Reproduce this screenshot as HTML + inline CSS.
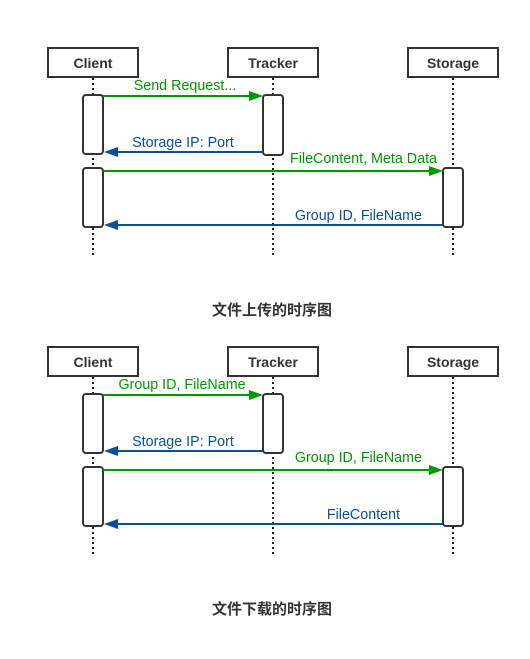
<!DOCTYPE html>
<html><head><meta charset="utf-8"><style>
html,body{margin:0;padding:0;background:#fff;width:530px;height:659px;overflow:hidden}
svg{display:block}
.h{font-family:"Liberation Sans","Noto Sans CJK SC",sans-serif;font-weight:bold;font-size:14px;fill:#333}
.t{font-family:"Liberation Sans","Noto Sans CJK SC",sans-serif;font-weight:bold;font-size:15px;fill:#333}
.l{font-family:"Liberation Sans","Noto Sans CJK SC",sans-serif;font-size:14.3px}
.g{fill:#009900}.b{fill:#0a4f9a}
</style></head><body>
<svg width="530" height="659" viewBox="0 0 530 659" xmlns="http://www.w3.org/2000/svg">
<g id="d1">
<g stroke="#222" stroke-width="2" stroke-dasharray="2,3">
<line x1="93" y1="78" x2="93" y2="256"/><line x1="273" y1="78" x2="273" y2="256"/><line x1="453" y1="78" x2="453" y2="256"/>
</g>
<g fill="#fff" stroke="#333" stroke-width="2">
<rect x="48" y="48" width="90" height="29"/><rect x="228" y="48" width="90" height="29"/><rect x="408" y="48" width="90" height="29"/>
<rect x="83" y="95" width="20" height="59" rx="3"/><rect x="263" y="95" width="20" height="60" rx="3"/>
<rect x="83" y="168" width="20" height="59" rx="3"/><rect x="443" y="168" width="20" height="59" rx="3"/>
</g>
<text class="h" x="93" y="68" text-anchor="middle">Client</text>
<text class="h" x="273" y="68" text-anchor="middle">Tracker</text>
<text class="h" x="453" y="68" text-anchor="middle">Storage</text>
<line x1="103" y1="96" x2="250" y2="96" stroke="#009900" stroke-width="2"/><polygon points="263,96 249,91 249,101" fill="#009900"/>
<line x1="263" y1="152" x2="116" y2="152" stroke="#0a4f9a" stroke-width="2"/><polygon points="104,152 118,147 118,157" fill="#0a4f9a"/>
<line x1="103" y1="171" x2="430" y2="171" stroke="#009900" stroke-width="2"/><polygon points="443,171 429,166 429,176" fill="#009900"/>
<line x1="443" y1="225" x2="116" y2="225" stroke="#0a4f9a" stroke-width="2"/><polygon points="104,225 118,220 118,230" fill="#0a4f9a"/>
<text class="l g" x="185" y="90" text-anchor="middle">Send Request...</text>
<text class="l b" x="183" y="147" text-anchor="middle">Storage IP: Port</text>
<text class="l g" x="437" y="163" text-anchor="end">FileContent, Meta Data</text>
<text class="l b" x="422" y="220" text-anchor="end">Group ID, FileName</text>
<text class="t" x="272" y="315" text-anchor="middle">文件上传的时序图</text>
</g>
<g transform="translate(0,299)">
<g stroke="#222" stroke-width="2" stroke-dasharray="2,3">
<line x1="93" y1="78" x2="93" y2="256"/><line x1="273" y1="78" x2="273" y2="256"/><line x1="453" y1="78" x2="453" y2="256"/>
</g>
<g fill="#fff" stroke="#333" stroke-width="2">
<rect x="48" y="48" width="90" height="29"/><rect x="228" y="48" width="90" height="29"/><rect x="408" y="48" width="90" height="29"/>
<rect x="83" y="95" width="20" height="59" rx="3"/><rect x="263" y="95" width="20" height="59" rx="3"/>
<rect x="83" y="168" width="20" height="59" rx="3"/><rect x="443" y="168" width="20" height="59" rx="3"/>
</g>
<text class="h" x="93" y="68" text-anchor="middle">Client</text>
<text class="h" x="273" y="68" text-anchor="middle">Tracker</text>
<text class="h" x="453" y="68" text-anchor="middle">Storage</text>
<line x1="103" y1="96" x2="250" y2="96" stroke="#009900" stroke-width="2"/><polygon points="263,96 249,91 249,101" fill="#009900"/>
<line x1="263" y1="152" x2="116" y2="152" stroke="#0a4f9a" stroke-width="2"/><polygon points="104,152 118,147 118,157" fill="#0a4f9a"/>
<line x1="103" y1="171" x2="430" y2="171" stroke="#009900" stroke-width="2"/><polygon points="443,171 429,166 429,176" fill="#009900"/>
<line x1="443" y1="225" x2="116" y2="225" stroke="#0a4f9a" stroke-width="2"/><polygon points="104,225 118,220 118,230" fill="#0a4f9a"/>
<text class="l g" x="182" y="90" text-anchor="middle">Group ID, FileName</text>
<text class="l b" x="183" y="147" text-anchor="middle">Storage IP: Port</text>
<text class="l g" x="422" y="163" text-anchor="end">Group ID, FileName</text>
<text class="l b" x="400" y="220" text-anchor="end">FileContent</text>
<text class="t" x="272" y="315" text-anchor="middle">文件下载的时序图</text>
</g>
</svg>
</body></html>
